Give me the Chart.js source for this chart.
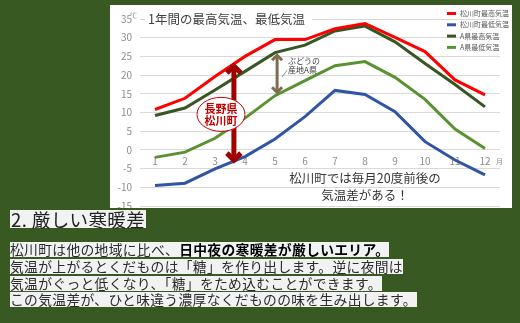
<!DOCTYPE html>
<html lang="ja">
<head>
<meta charset="utf-8">
<script src="https://cdn.jsdelivr.net/npm/chart.js@4"></script>
<style>
  html, body { margin: 0; padding: 0; }
  body {
    width: 520px; height: 323px; overflow: hidden; position: relative;
    background: #395923;
    font-family: "Noto Sans CJK JP", "Noto Sans", sans-serif;
  }
  #panel {
    position: absolute; left: 110px; top: 5px; width: 402px; height: 203px;
    background: #fff; overflow: hidden;
  }
  #panel canvas { position: absolute; left: 0; top: 0; }
  #heading {
    position: absolute; left: 10px; top: 210px; height: 18px; line-height: 18px;
    font-size: 18.5px; letter-spacing: 0.4px; background: #f2f2f2; color: #222;
    padding: 0 1px; white-space: nowrap;
  }
  #para { position: absolute; left: 10px; top: 242px; font-size: 13.8px; letter-spacing: 0.3px; color: #2b2b2b; }
  #para div {
    width: fit-content; height: 15px; line-height: 15px; background: #f2f2f2;
    margin-bottom: 1.8px; white-space: nowrap;
  }
  #para b { color: #000; }
</style>
</head>
<body>
<div id="panel"><canvas id="tempChart" width="402" height="215" style="width:402px;height:215px"></canvas></div>
<div id="heading">2. 厳しい寒暖差</div>
<div id="para">
  <div>松川町は他の地域に比べ、<b>日中夜の寒暖差が厳しいエリア。</b></div>
  <div>気温が上がるとくだものは「糖」を作り出します。逆に夜間は</div>
  <div>気温がぐっと低くなり、「糖」をため込むことができます。</div>
  <div>この気温差が、ひと味違う濃厚なくだものの味を生み出します。</div>
</div>
<script>
// 月と気温データ
const months = ["1", "2", "3", "4", "5", "6", "7", "8", "9", "10", "11", "12"];
const matsukawaHigh = [10.8, 13.8, 19.6, 25, 29.5, 29.5, 32.4, 33.8, 30.1, 26.3, 18.7, 14.7];
const matsukawaLow = [-9.5, -8.9, -5.1, -1.8, 2.9, 8.9, 15.9, 14.8, 10.2, 2.2, -2.7, -6.7];
const prefAHigh = [9.2, 11.2, 16, 21, 26, 28, 31.8, 33.1, 28.9, 23.1, 17.5, 11.5];
const prefALow = [-2, -0.6, 3.1, 8.5, 14.5, 18.5, 22.5, 23.6, 19.4, 13.5, 5.6, 0.4];
const seriesNames = ["松川町最高気温", "松川町最低気温", "A県最高気温", "A県最低気温"];
const seriesColors = ["#ff0000", "#2f55a4", "#375623", "#5a9231"];
const yMin = -15, yMax = 35, yStep = 5;

const FONT = '"Noto Sans CJK JP", "Noto Sans", sans-serif';
Chart.defaults.font.family = FONT;

// 矢印（両端）
function doubleArrow(ctx, x, y1, y2, color, width, head) {
  ctx.save();
  ctx.strokeStyle = color;
  ctx.lineWidth = width;
  ctx.lineJoin = "miter";
  ctx.lineCap = "butt";
  ctx.beginPath();
  ctx.moveTo(x, y1 + width / 2);
  ctx.lineTo(x, y2 - width / 2);
  ctx.stroke();
  ctx.beginPath();
  ctx.moveTo(x - head, y1 + head + width / 2);
  ctx.lineTo(x, y1 + width / 2);
  ctx.lineTo(x + head, y1 + head + width / 2);
  ctx.moveTo(x - head, y2 - head - width / 2);
  ctx.lineTo(x, y2 - width / 2);
  ctx.lineTo(x + head, y2 - head - width / 2);
  ctx.stroke();
  ctx.restore();
}

const overlay = {
  id: "overlay",
  afterDatasetsDraw(chart) {
    const { ctx, chartArea, scales: { x, y } } = chart;
    ctx.save();

    // 単位
    ctx.fillStyle = "#8c8c8c";
    ctx.font = "7px " + FONT;
    ctx.textBaseline = "middle";
    ctx.textAlign = "left";
    ctx.fillText("℃", chartArea.left - 10, y.getPixelForValue(yMax) - 4);
    ctx.fillText("月", x.getPixelForValue(11) + 11, y.getPixelForValue(-3));

    // タイトル
    ctx.font = "12.5px " + FONT;
    const title = "1年間の最高気温、最低気温";
    const tw = ctx.measureText(title).width;
    const ty = y.getPixelForValue(yMax);
    ctx.fillStyle = "#fff";
    ctx.fillRect(chartArea.left + 5, ty - 9, tw + 10, 18);
    ctx.fillStyle = "#404040";
    ctx.fillText(title, chartArea.left + 8, ty);

    // 凡例
    ctx.font = "7px " + FONT;
    seriesNames.forEach((name, i) => {
      const ly = 8.5 + i * 11.3;
      ctx.strokeStyle = seriesColors[i];
      ctx.lineWidth = 3;
      ctx.beginPath();
      ctx.moveTo(337, ly);
      ctx.lineTo(346, ly);
      ctx.stroke();
      ctx.fillStyle = "#595959";
      ctx.fillText(name, 350, ly);
    });

    // ぶどうの産地A県
    const bx = x.getPixelForValue(4.07);
    doubleArrow(ctx, bx, y.getPixelForValue(25.7), y.getPixelForValue(15), "#7f6d4f", 3, 5);
    ctx.strokeStyle = "#7f6d4f";
    ctx.lineWidth = 0.8;
    ctx.beginPath();
    ctx.moveTo(bx + 5, y.getPixelForValue(19.5));
    ctx.lineTo(bx + 10, y.getPixelForValue(21.3));
    ctx.stroke();
    ctx.fillStyle = "#404040";
    ctx.font = "8px " + FONT;
    ctx.fillText("ぶどうの", bx + 11, y.getPixelForValue(23.9));
    ctx.fillText("産地A県", bx + 11, y.getPixelForValue(21.3));

    // 長野県松川町
    const rx = x.getPixelForValue(2.63);
    doubleArrow(ctx, rx, y.getPixelForValue(23.1), y.getPixelForValue(-3.4), "#a00000", 5, 7);
    const ex = x.getPixelForValue(2.2), ey = y.getPixelForValue(9.5);
    ctx.beginPath();
    ctx.ellipse(ex, ey, 24, 17, 0, 0, Math.PI * 2);
    ctx.fillStyle = "#fff";
    ctx.fill();
    ctx.strokeStyle = "#c00000";
    ctx.lineWidth = 1;
    ctx.stroke();
    ctx.fillStyle = "#c00000";
    ctx.font = "bold 11px " + FONT;
    ctx.textAlign = "center";
    ctx.fillText("長野県", ex, ey - 6);
    ctx.fillText("松川町", ex, ey + 6);

    // 説明
    ctx.fillStyle = "#333";
    ctx.font = "12.5px " + FONT;
    const nx = x.getPixelForValue(7.0);
    ctx.fillText("松川町では毎月20度前後の", nx, y.getPixelForValue(-7.5));
    ctx.fillText("気温差がある！", nx, y.getPixelForValue(-12));

    ctx.restore();
  }
};

const values = [matsukawaHigh, matsukawaLow, prefAHigh, prefALow];

new Chart(document.getElementById("tempChart"), {
  type: "line",
  data: {
    labels: months,
    datasets: seriesNames.map((name, i) => ({
      label: name,
      data: values[i],
      borderColor: seriesColors[i],
      backgroundColor: seriesColors[i],
      borderWidth: 3,
      pointRadius: 0,
      tension: 0,
      fill: false,
    })),
  },
  options: {
    responsive: false,
    animation: false,
    layout: { padding: { top: 13, right: 12, bottom: 12, left: 0 } },
    plugins: { legend: { display: false }, tooltip: { enabled: false } },
    scales: {
      x: {
        position: { y: 0 },
        offset: true,
        grid: { display: false, drawTicks: false },
        border: { display: false },
        ticks: { color: "#8c8c8c", font: { size: 10 }, padding: 5, maxRotation: 0, autoSkip: false },
      },
      y: {
        min: yMin,
        max: yMax,
        ticks: { stepSize: yStep, color: "#8c8c8c", font: { size: 10 }, padding: 8 },
        grid: { color: "#d9d9d9", drawTicks: false },
        border: { display: false },
        afterFit: (scale) => { scale.width = 30; },
      },
    },
  },
  plugins: [overlay],
});
</script>
</body>
</html>
